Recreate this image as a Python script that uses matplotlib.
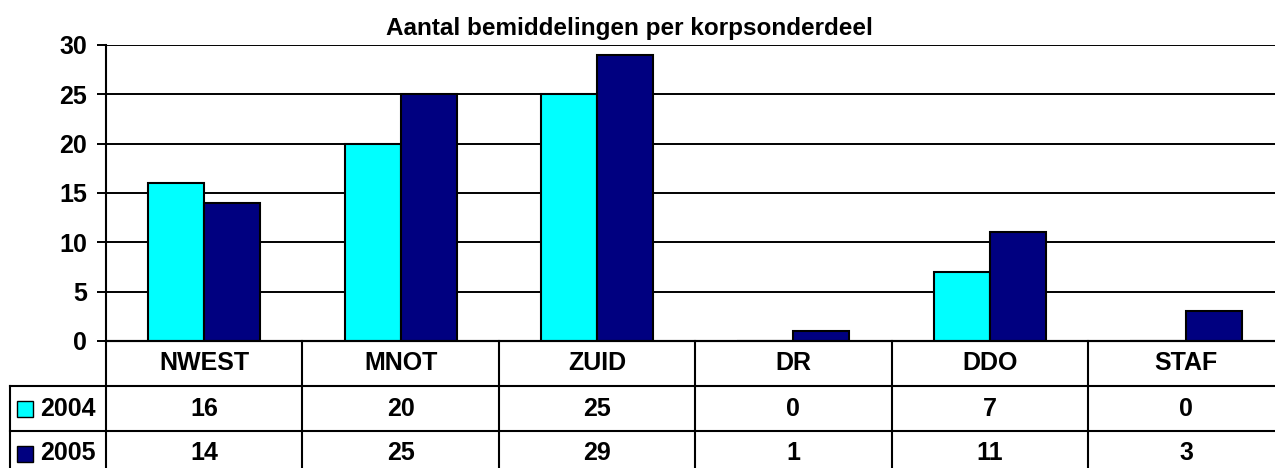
"""
Aantal bemiddelingen per korpsonderdeel - clustered bars with data table (Excel style)
"""
import matplotlib.pyplot as plt
import numpy as np
from matplotlib.patches import Rectangle

plt.rcParams['font.family'] = ['Liberation Sans', 'DejaVu Sans']
plt.rcParams['font.weight'] = 'bold'

categories = ["NWEST", "MNOT", "ZUID", "DR", "DDO", "STAF"]
series_names = ["2004", "2005"]
values_2004 = [16, 20, 25, 0, 7, 0]
values_2005 = [14, 25, 29, 1, 11, 3]
yticks = [0, 5, 10, 15, 20, 25, 30]
colors = ["#00FFFF", "#000080"]

W, H = 1275, 468


def px_rect(x0, y0, x1, y1):
    # pixel box (from top-left) -> figure fraction rect
    return [x0 / W, 1 - y1 / H, (x1 - x0) / W, (y1 - y0) / H]


fig = plt.figure(figsize=(W / 100, H / 100), dpi=100)
fig.patch.set_facecolor("white")

# plot area; category column is ~196 px wide, last one runs past the right edge
col_w = 196.4
x_left = 106
x_right = x_left + 6 * col_w
ax = fig.add_axes(px_rect(x_left, 45, x_right, 341))

n = len(categories)
x = np.arange(n) + 0.5
bw = 56 / col_w
ax.bar(x - bw / 2, values_2004, bw, color=colors[0], edgecolor="black", linewidth=1.5, zorder=3)
ax.bar(x + bw / 2, values_2005, bw, color=colors[1], edgecolor="black", linewidth=1.5, zorder=3)

ax.set_xlim(0, n)
ax.set_ylim(0, 30)
ax.set_yticks(yticks)
ax.set_xticks([])
ax.yaxis.grid(True, color="black", linewidth=1.4)
ax.set_axisbelow(True)
for s in ["top", "right"]:
    ax.spines[s].set_visible(False)
for s in ["left", "bottom"]:
    ax.spines[s].set_linewidth(1.5)
ax.tick_params(axis="y", length=6.5, width=1.4, labelsize=18, pad=7)
for lbl in ax.get_yticklabels():
    lbl.set_fontweight("bold")

fig.text(629 / W, 1 - 28 / H, "Aantal bemiddelingen per korpsonderdeel",
         ha="center", va="center", fontsize=17.5, fontweight="bold")

# data table below the plot
row_h = 45
lab_w = (x_left - 10) / col_w
tx = fig.add_axes(px_rect(10, 341, x_right, 341 + 3 * row_h))
tx.set_xlim(-lab_w, n)
tx.set_ylim(3, 0)
tx.axis("off")

lw = 1.5
for i in range(n + 1):
    tx.plot([i, i], [0, 3], color="black", linewidth=lw, clip_on=False)
tx.plot([0, n], [0, 0], color="black", linewidth=lw, clip_on=False)
for r in [1, 2, 3]:
    tx.plot([-lab_w, n], [r, r], color="black", linewidth=lw, clip_on=False)
tx.plot([-lab_w, -lab_w], [1, 3], color="black", linewidth=lw, clip_on=False)

for i, cat in enumerate(categories):
    tx.text(i + 0.5, 0.5, cat, ha="center", va="center", fontsize=18, fontweight="bold")

sq_w = 16 / col_w
sq_h = 16 / row_h
for r, (name, vals, c) in enumerate(zip(series_names, [values_2004, values_2005], colors), start=1):
    tx.add_patch(Rectangle(((17 - x_left) / col_w, r + 0.5 - sq_h / 2), sq_w, sq_h,
                           facecolor=c, edgecolor="black", linewidth=1.0, clip_on=False))
    tx.text((40 - x_left) / col_w, r + 0.5, name, ha="left", va="center",
            fontsize=18, fontweight="bold")
    for i, v in enumerate(vals):
        tx.text(i + 0.5, r + 0.5, str(v), ha="center", va="center",
                fontsize=18, fontweight="bold")

plt.savefig("out.png", dpi=100)
plt.close()
